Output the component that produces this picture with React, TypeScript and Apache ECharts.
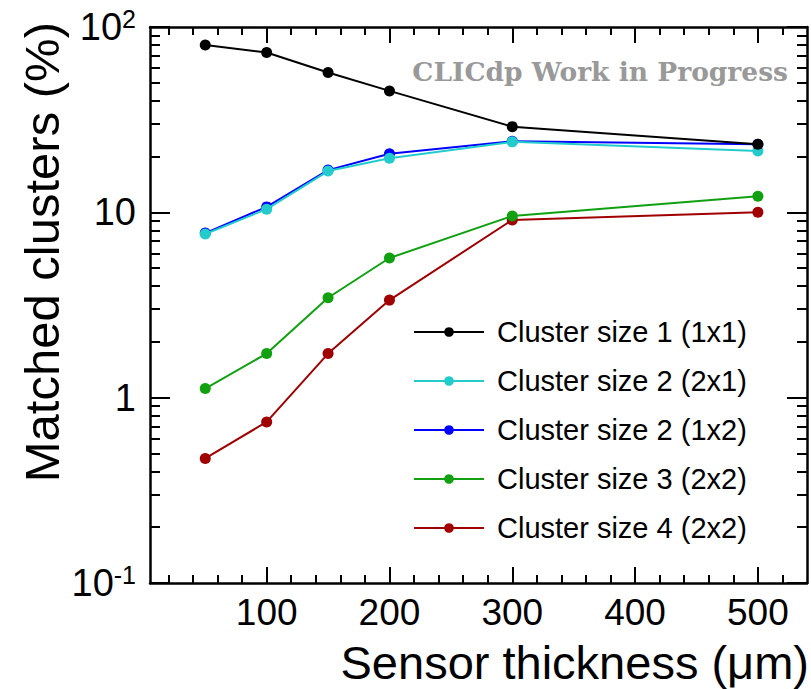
import React, { useEffect, useRef } from "react";
import * as echarts from "echarts";

const thickness = [50, 100, 150, 200, 300, 500];
const size1x1 = [80, 72.8, 56.8, 45.2, 29.0, 23.3];
const size2x1 = [7.64, 10.4, 16.7, 19.6, 24.0, 21.4];
const size1x2 = [7.73, 10.7, 16.9, 20.7, 24.2, 23.3];
const size3 = [1.12, 1.73, 3.46, 5.67, 9.55, 12.2];
const size4 = [0.47, 0.74, 1.73, 3.36, 9.1, 10.0];

const seriesNames = [
  "Cluster size 1 (1x1)",
  "Cluster size 2 (2x1)",
  "Cluster size 2 (1x2)",
  "Cluster size 3 (2x2)",
  "Cluster size 4 (2x2)",
];
const seriesColors = ["#000000", "#22cccc", "#0000ff", "#10a010", "#a00000"];
const seriesValues = [size1x1, size2x1, size1x2, size3, size4];

const xMajorTicks = [100, 200, 300, 400, 500];
const xMinorTicks = [20, 40, 60, 80, 120, 140, 160, 180, 220, 240, 260, 280, 320, 340, 360, 380, 420, 440, 460, 480, 520];
const yMajorTicks = [0.1, 1, 10, 100];
const yMinorTicks = [0.2, 0.3, 0.4, 0.5, 0.6, 0.7, 0.8, 0.9, 2, 3, 4, 5, 6, 7, 8, 9, 20, 30, 40, 50, 60, 70, 80, 90];

const FONT = "Liberation Sans";

export default function App() {
  const ref = useRef<HTMLDivElement>(null);
  useEffect(() => {
    if (!ref.current) return;
    const chart = echarts.init(ref.current, undefined, { renderer: "svg" });
    const axisLine = { show: true, lineStyle: { color: "#000", width: 2.5 } };
    const noLine = { show: false };
    const mkX = (pos: "bottom" | "top", major: boolean) => ({
      type: "value",
      position: pos,
      min: 5,
      max: 540,
      axisLine: major ? axisLine : noLine,
      axisTick: {
        show: true,
        inside: true,
        length: major ? 16 : 8,
        customValues: major ? xMajorTicks : xMinorTicks,
        lineStyle: { color: "#000", width: 2 },
      },
      axisLabel:
        major && pos === "bottom"
          ? {
              show: true,
              customValues: xMajorTicks,
              fontSize: 37,
              lineHeight: 30,
              fontFamily: FONT,
              color: "#000",
              margin: 14,
            }
          : { show: false },
      splitLine: { show: false },
    });
    const mkY = (pos: "left" | "right", major: boolean) => ({
      type: "log",
      logBase: 10,
      position: pos,
      min: 0.1,
      max: 100,
      axisLine: major ? axisLine : noLine,
      axisTick: {
        show: true,
        inside: true,
        length: major ? 20 : 10,
        customValues: major ? yMajorTicks : yMinorTicks,
        lineStyle: { color: "#000", width: 2 },
      },
      axisLabel:
        major && pos === "left"
          ? {
              show: true,
              customValues: yMajorTicks,
              margin: 14,
              formatter: (v: number) => {
                const e = Math.round(Math.log10(v));
                if (e === 0) return "{n|1}";
                if (e === 1) return "{n|10}";
                return "{n|10}{s|" + e + "}";
              },
              rich: {
                n: { fontSize: 38, fontFamily: FONT, color: "#000", lineHeight: 42 },
                s: { fontSize: 25, fontFamily: FONT, color: "#000", verticalAlign: "top", lineHeight: 42 },
              },
            }
          : { show: false },
      splitLine: { show: false },
    });
    chart.setOption({
      animation: false,
      backgroundColor: "#fff",
      grid: { left: 150, top: 27, right: 4, bottom: 106, containLabel: false },
      xAxis: [mkX("bottom", true), mkX("bottom", false), mkX("top", true), mkX("top", false)],
      yAxis: [mkY("left", true), mkY("left", false), mkY("right", true), mkY("right", false)],
      legend: {
        orient: "vertical",
        left: 408,
        top: 310,
        itemWidth: 70,
        itemHeight: 12,
        itemGap: 15,
        textStyle: { fontSize: 29, fontFamily: FONT, color: "#000", lineHeight: 34, padding: [0, 0, 0, 8] },
        data: seriesNames,
      },
      graphic: [
        {
          type: "text",
          x: 788,
          y: 71,
          style: {
            text: "CLICdp Work in Progress",
            fontFamily: "DejaVu Serif",
            fontWeight: "bold",
            fontSize: 26.5,
            fill: "#999999",
            align: "right",
            verticalAlign: "middle",
          },
        },
        {
          type: "text",
          x: 809,
          y: 662,
          style: {
            text: "Sensor thickness (\u03bcm)",
            fontFamily: FONT,
            fontSize: 47,
            lineHeight: 40,
            fill: "#000",
            align: "right",
            verticalAlign: "middle",
          },
        },
        {
          type: "text",
          x: 42,
          y: 22,
          rotation: Math.PI / 2,
          style: {
            text: "Matched clusters (%)",
            fontFamily: FONT,
            fontSize: 49,
            fill: "#000",
            align: "right",
            verticalAlign: "middle",
          },
        },
      ],
      series: seriesNames.map((name, i) => ({
        name,
        type: "line",
        xAxisIndex: 0,
        yAxisIndex: 0,
        data: thickness.map((x, j) => [x, seriesValues[i][j]]),
        symbol: "circle",
        symbolSize: 11,
        lineStyle: { color: seriesColors[i], width: 2 },
        itemStyle: { color: seriesColors[i] },
        z: 10 - i,
      })),
    });
    return () => chart.dispose();
  }, []);
  return <div ref={ref} style={{ position: "fixed", left: 0, top: 0, width: 811, height: 689 }} />;
}
